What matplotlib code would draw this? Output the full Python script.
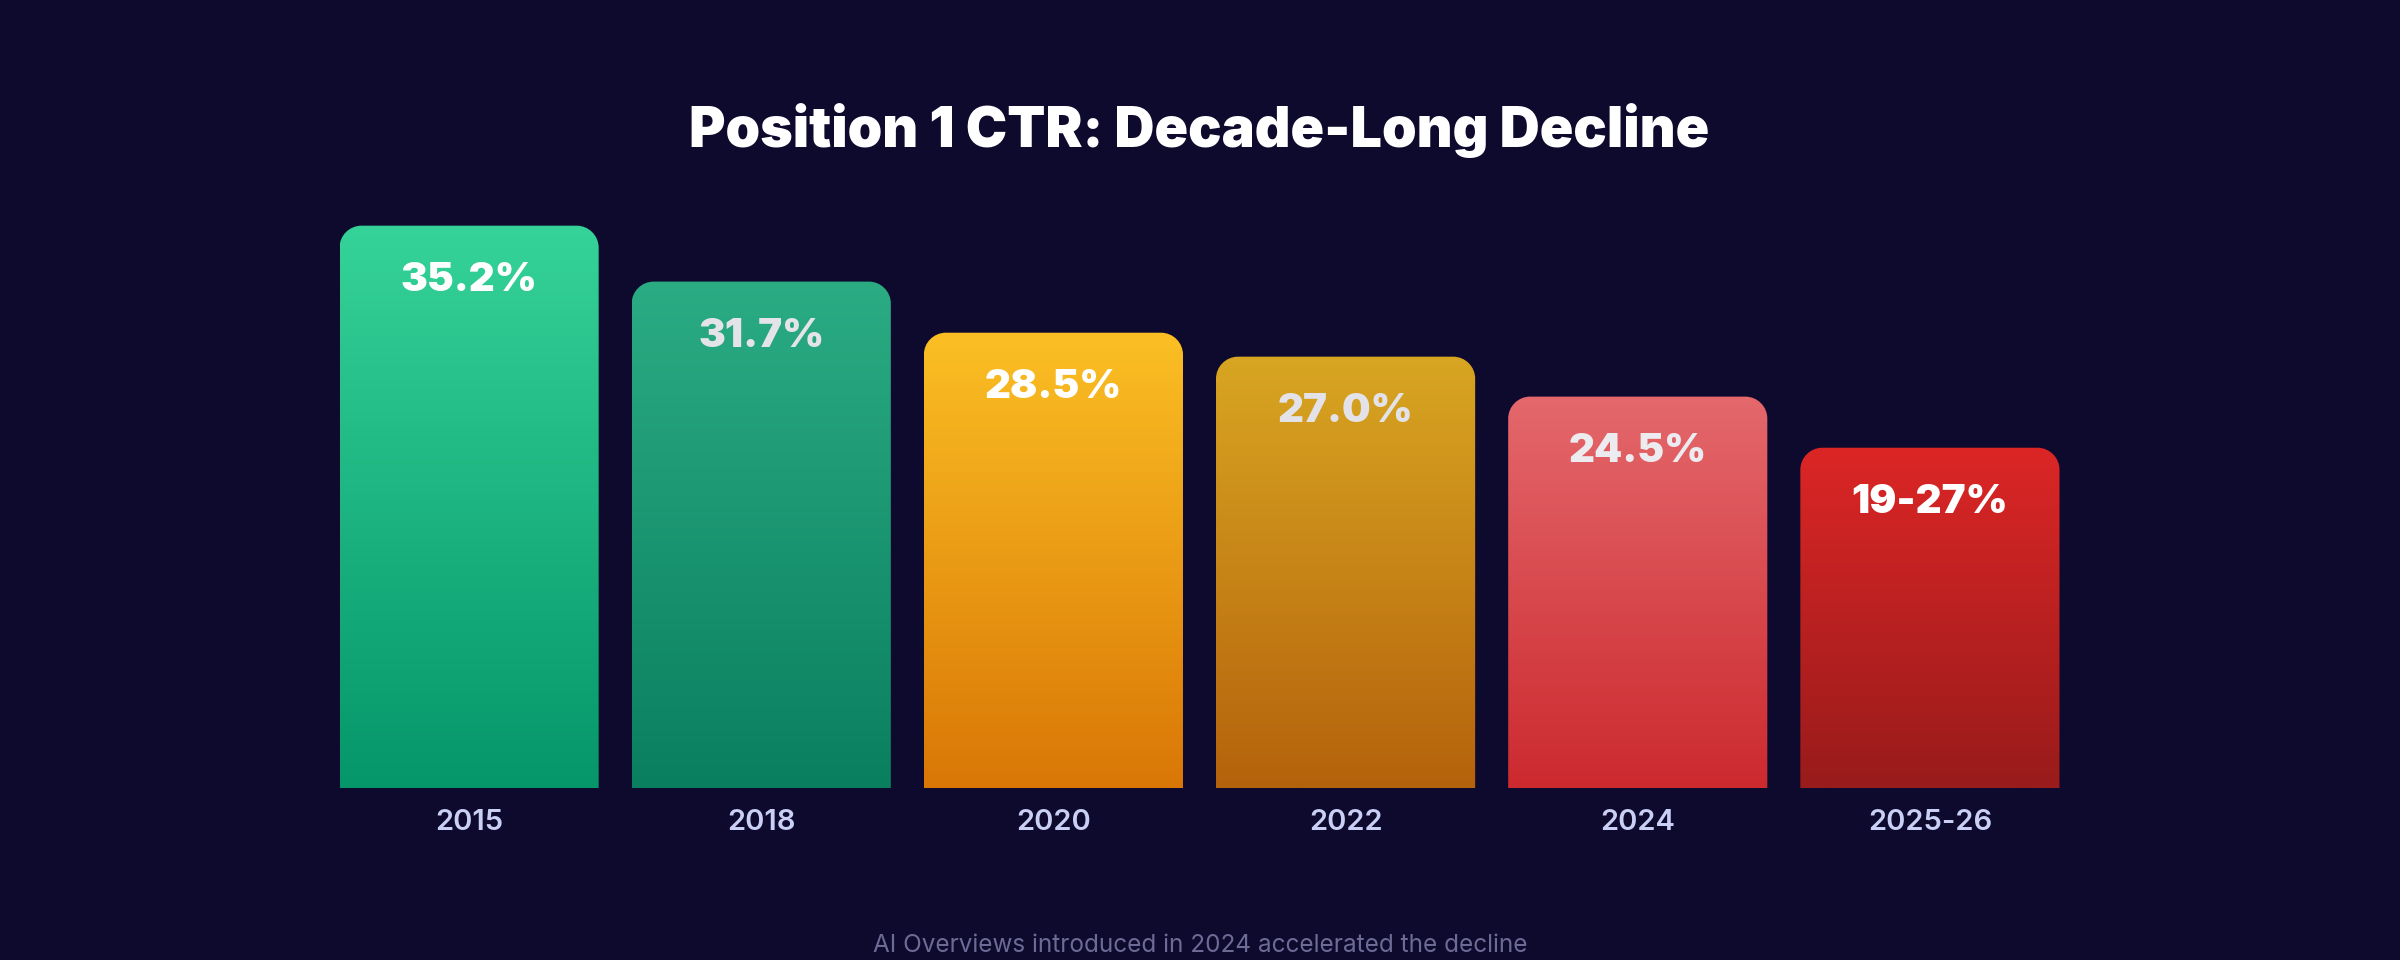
import numpy as np
import matplotlib
matplotlib.use("Agg")
import matplotlib.pyplot as plt
from matplotlib.path import Path
from matplotlib.patches import PathPatch
from matplotlib.colors import to_rgb
import matplotlib.transforms as mtransforms

# Data
years = ["2015", "2018", "2020", "2022", "2024", "2025-26"]
ctr_values = [35.2, 31.7, 28.5, 27.0, 24.5, 21.3]
value_labels = ["35.2%", "31.7%", "28.5%", "27.0%", "24.5%", "19-27%"]
top_colors = ["#35d399", "#2bac83", "#fbbf24", "#d8a622", "#e4686c", "#dc2626"]
bottom_colors = ["#059669", "#0a7f5f", "#d97706", "#b5620c", "#cc2a2f", "#991b1b"]
label_colors = ["#ffffff", "#e4e4e8", "#ffffff", "#e2e2e8", "#ececf0", "#ffffff"]

title = "Position 1 CTR: Decade-Long Decline"
footnote = "AI Overviews introduced in 2024 accelerated the decline"

BG = "#0e0a2d"
W, H, DPI = 2400, 960, 100

plt.rcParams['font.family'] = ['Inter', 'DejaVu Sans']

fig = plt.figure(figsize=(W / DPI, H / DPI), dpi=DPI, facecolor=BG)
ax_left, ax_right = 323, 2076
ax_bottom, ax_top = 788, 149
ax = fig.add_axes([ax_left / W, 1 - ax_bottom / H, (ax_right - ax_left) / W, (ax_bottom - ax_top) / H])
ax.set_facecolor(BG)

x = np.arange(len(years))
bars = ax.bar(x, ctr_values, width=0.887, color="none", edgecolor="none")
ax.set_xlim(-0.5, len(years) - 0.5)
ax.set_ylim(0, 40)

# corner radius in pixels -> data units
px_x = (ax_right - ax_left) / len(years)
px_y = (ax_bottom - ax_top) / 40
rad = 22
rx, ry = rad / px_x, rad / px_y
k = 0.5523


def rounded_top(x0, w, h):
    x1 = x0 + w
    verts = [(x0, 0), (x0, h - ry),
             (x0, h - ry + k * ry), (x0 + rx - k * rx, h), (x0 + rx, h),
             (x1 - rx, h),
             (x1 - rx + k * rx, h), (x1, h - ry + k * ry), (x1, h - ry),
             (x1, 0), (x0, 0)]
    codes = [Path.MOVETO, Path.LINETO,
             Path.CURVE4, Path.CURVE4, Path.CURVE4,
             Path.LINETO,
             Path.CURVE4, Path.CURVE4, Path.CURVE4,
             Path.LINETO, Path.CLOSEPOLY]
    return Path(verts, codes)


for i, b in enumerate(bars):
    x0, w, h = b.get_x(), b.get_width(), b.get_height()
    c_top = np.array(to_rgb(top_colors[i]))
    c_bot = np.array(to_rgb(bottom_colors[i]))
    t = np.linspace(0, 1, 256)[:, None]
    grad = (c_top * (1 - t) + c_bot * t)[:, None, :]
    clip = PathPatch(rounded_top(x0, w, h), facecolor="none", edgecolor="none", transform=ax.transData)
    ax.add_patch(clip)
    im = ax.imshow(grad, extent=(x0, x0 + w, 0, h), aspect="auto", origin="upper", zorder=2,
                   interpolation="bilinear")
    im.set_clip_path(clip)

    off = mtransforms.offset_copy(ax.transData, fig=fig, x=0, y=-55, units="dots")
    ax.text(b.get_x() + w / 2, h, value_labels[i], transform=off, ha="center", va="center",
            fontsize=29, fontweight="black", color=label_colors[i], zorder=3)

ax.set_xlim(-0.5, len(years) - 0.5)
ax.set_ylim(0, 40)

ax.set_xticks(x)
ax.set_xticklabels(years, fontsize=21, fontweight="semibold", color="#c9cff5")
ax.tick_params(axis="x", length=0, pad=15)
ax.set_yticks([])
for s in ax.spines.values():
    s.set_visible(False)

fig.text(1199 / W, 1 - 130 / H, title, ha="center", va="center", fontsize=40,
         fontweight="black", color="white")
fig.text(1200 / W, 1 - 945 / H, footnote, ha="center", va="center", fontsize=17.5,
         color="#6d6a96")

fig.savefig("out.png", dpi=DPI, facecolor=BG)
